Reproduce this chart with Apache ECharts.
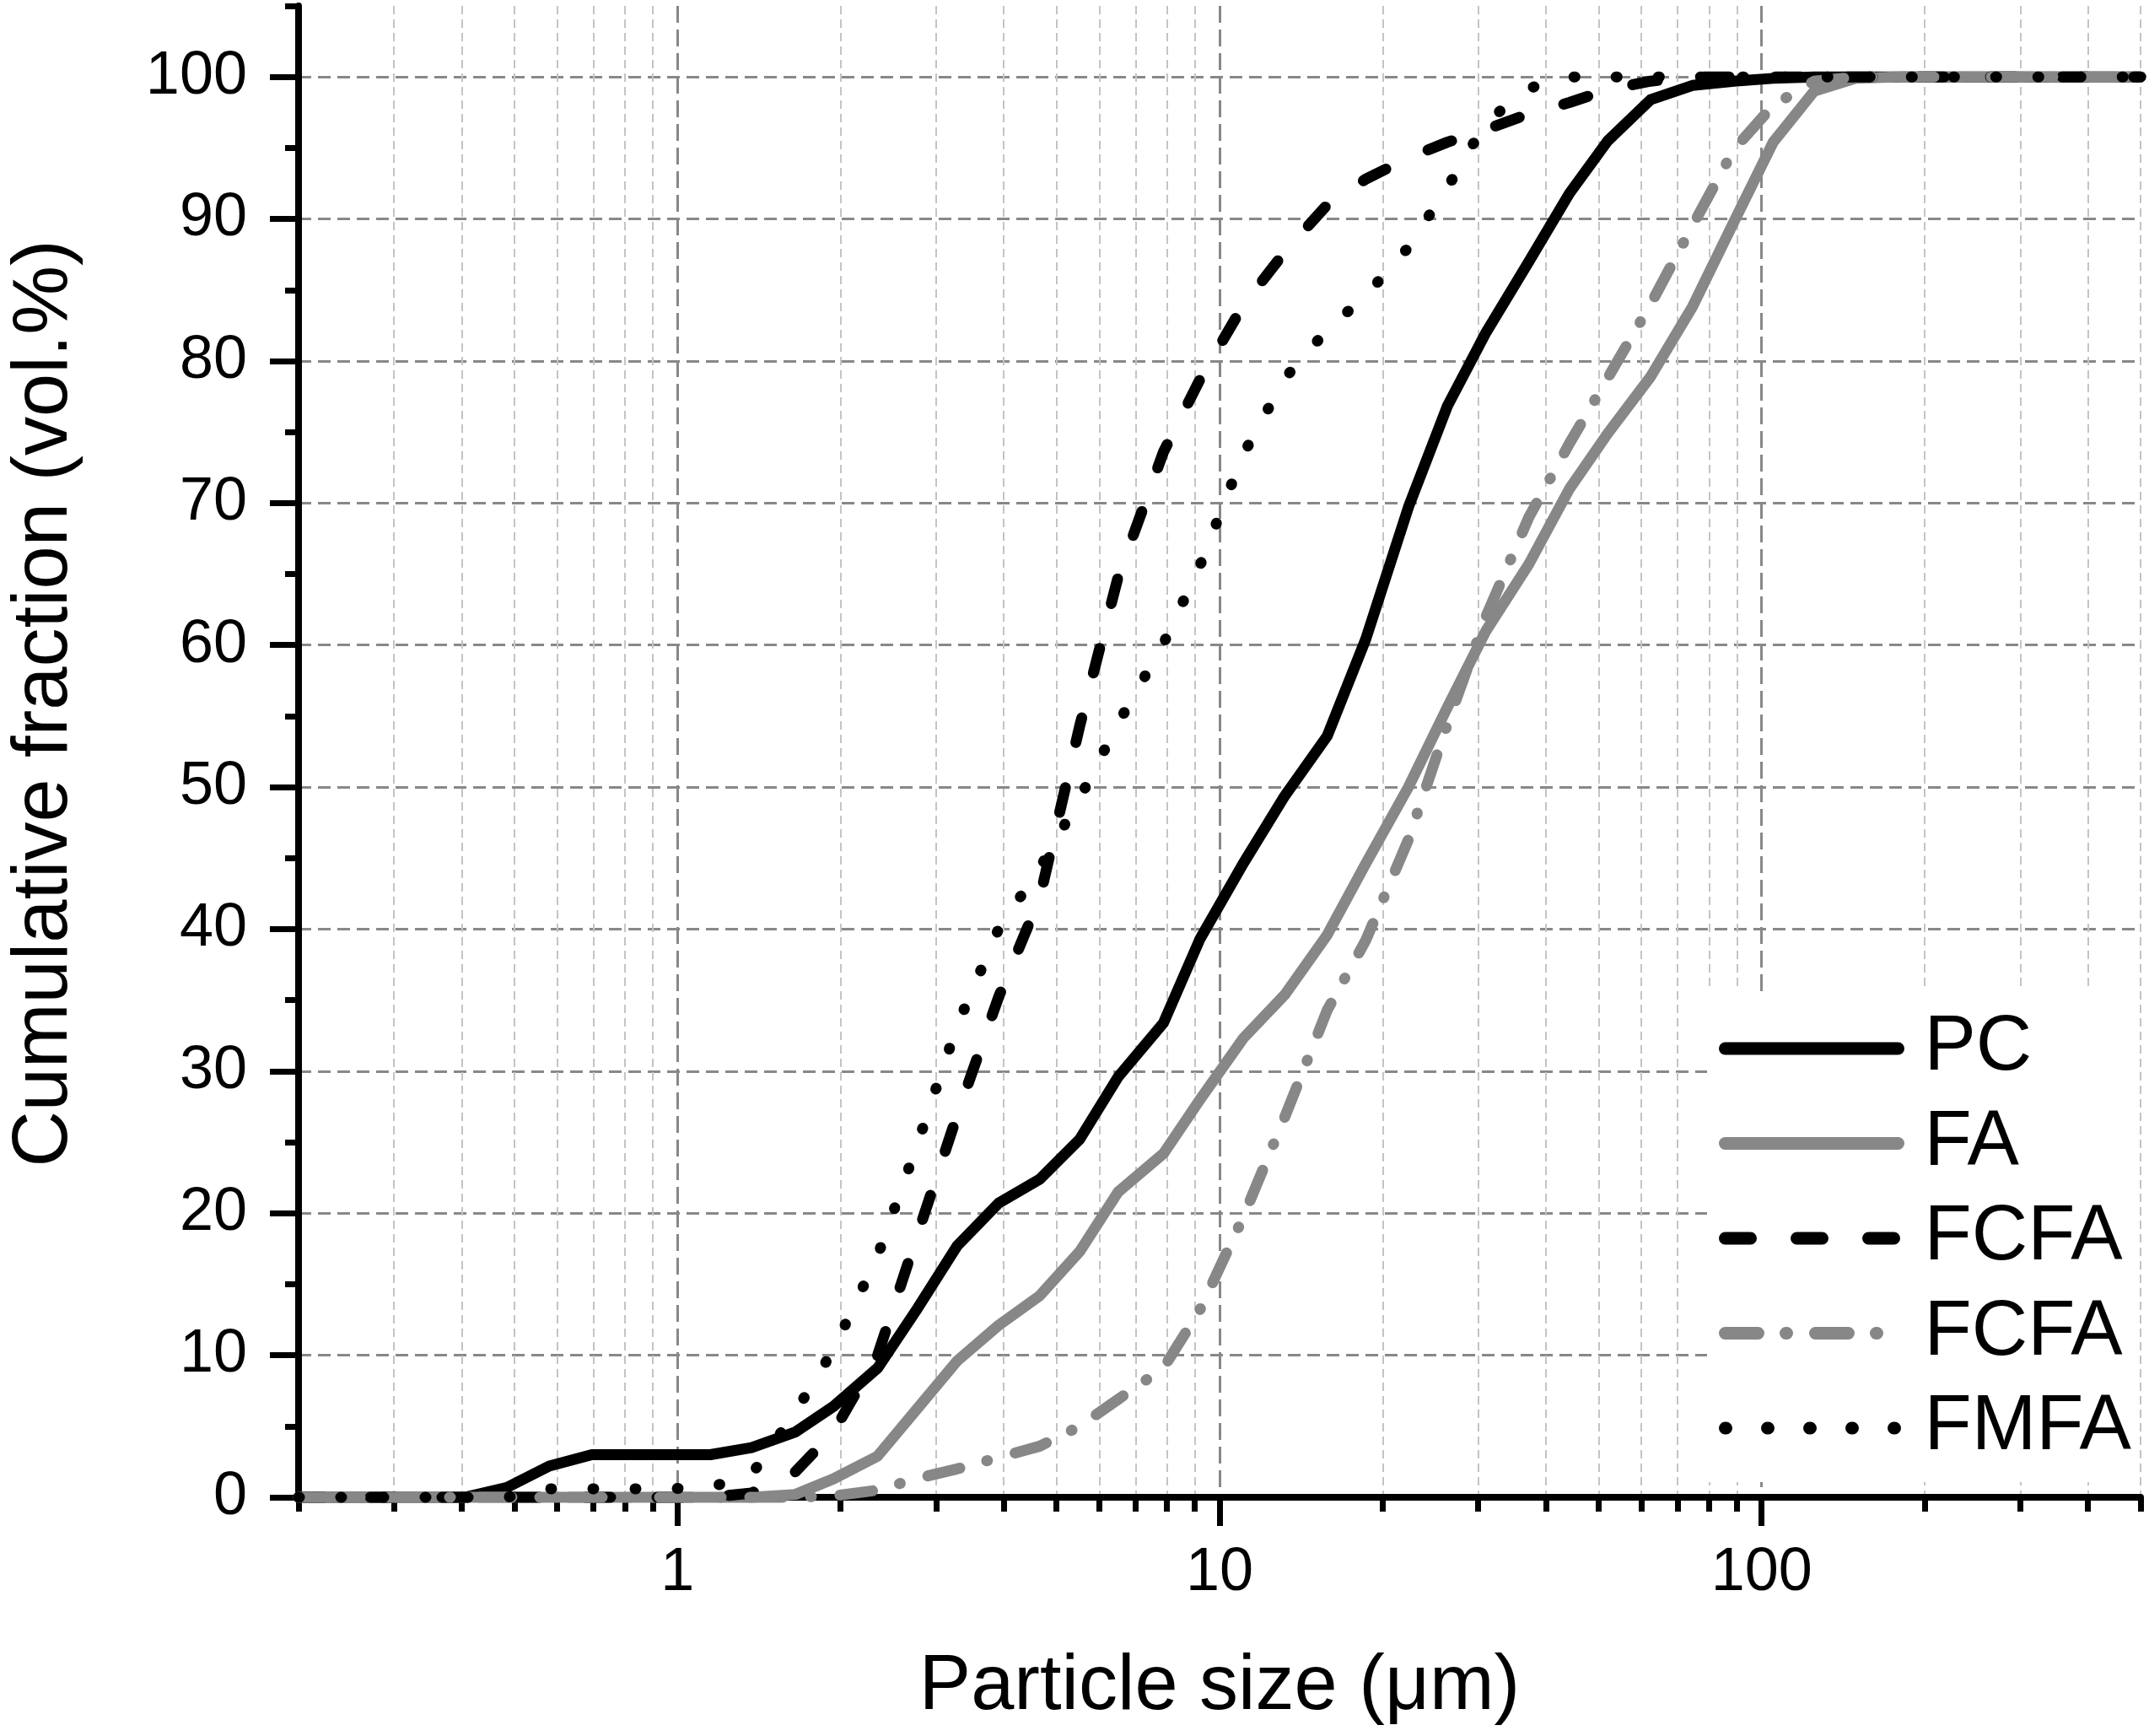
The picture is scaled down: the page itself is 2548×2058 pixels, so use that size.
<!DOCTYPE html>
<html>
<head>
<meta charset="utf-8">
<title>Particle size distribution</title>
<script src="https://cdn.jsdelivr.net/npm/echarts@6/dist/echarts.min.js"></script>
<style>
    html, body { margin: 0; padding: 0; background: #fff; }
    #chart { width: 2548px; height: 2058px; }
</style>
</head>
<body>
<div id="chart"></div>
<script>
// size classes (µm)
var sizes = [0.2, 0.24, 0.285, 0.34, 0.405, 0.485, 0.58, 0.695, 0.82, 0.97,
    1.15, 1.37, 1.65, 1.94, 2.34, 2.75, 3.28, 3.91, 4.66, 5.52,
    6.5, 7.88, 9.2, 11.05, 13.2, 15.8, 18.6, 22.3, 26.3, 31,
    37.2, 44.2, 52, 62.4, 74.5, 88.9, 105, 125, 149, 177,
    211, 251, 298, 355, 422, 500];

// cumulative fraction (vol.%)
var pc = [0, 0, 0, 0, 0, 0.7, 2.2, 3.0, 3.0, 3.0,
    3.0, 3.5, 4.6, 6.4, 9.1, 13.1, 17.7, 20.7, 22.4, 25.2,
    29.6, 33.4, 39.3, 44.6, 49.4, 53.6, 60.4, 69.7, 76.8, 82.0,
    87.0, 91.8, 95.5, 98.4, 99.4, 99.7, 99.9, 100, 100, 100,
    100, 100, 100, 100, 100, 100];
var fa = [0, 0, 0, 0, 0, 0, 0, 0, 0, 0,
    0, 0, 0.2, 1.3, 2.9, 6.1, 9.6, 12.1, 14.2, 17.3,
    21.5, 24.2, 28.0, 32.3, 35.4, 39.6, 44.6, 50.0, 55.6, 61.0,
    65.7, 71.0, 74.9, 78.9, 83.8, 89.8, 95.4, 99.0, 99.9, 100,
    100, 100, 100, 100, 100, 100];
var fcfa = [0, 0, 0, 0, 0, 0, 0, 0, 0, 0,
    0, 0.3, 1.8, 4.6, 10.0, 18.1, 26.9, 35.2, 42.2, 54.3,
    64.8, 73.6, 78.7, 83.9, 87.7, 91.0, 92.8, 94.3, 95.4, 96.3,
    97.4, 98.2, 99.1, 99.7, 100, 100, 100, 100, 100, 100,
    100, 100, 100, 100, 100, 100];
var fcfa2 = [0, 0, 0, 0, 0, 0, 0, 0, 0, 0,
    0, 0, 0, 0.1, 0.5, 1.3, 2.0, 2.8, 3.6, 5.0,
    6.9, 9.1, 13.2, 19.7, 26.8, 34.3, 39.2, 46.3, 54.4, 62.0,
    69.0, 74.2, 78.8, 84.0, 89.5, 94.9, 98.0, 99.7, 100, 100,
    100, 100, 100, 100, 100, 100];
var fmfa = [0, 0, 0, 0, 0, 0, 0.6, 0.6, 0.6, 0.6,
    0.7, 1.6, 6.0, 10.4, 17.0, 24.5, 33.2, 40.0, 44.3, 49.2,
    54.5, 60.1, 65.6, 73.4, 78.8, 82.2, 84.6, 88.0, 92.2, 96.8,
    99.2, 100, 100, 100, 100, 100, 100, 100, 100, 100,
    100, 100, 100, 100, 100, 100];

// tick positions
var xMajorTicks = [1, 10, 100];
var xMinorTicks = [0.2, 0.3, 0.4, 0.5, 0.6, 0.7, 0.8, 0.9,
    2, 3, 4, 5, 6, 7, 8, 9,
    20, 30, 40, 50, 60, 70, 80, 90,
    200, 300, 400, 500];
var yMajorTicks = [0, 10, 20, 30, 40, 50, 60, 70, 80, 90, 100];
var yMinorTicks = [5, 15, 25, 35, 45, 55, 65, 75, 85, 95, 105];

var FONT = "'Liberation Sans', Arial, sans-serif";
var BLACK = '#000';
var GREY = '#878787';
var LINE_W = 13;

function pairs(ys){
    let out = [];
    for(let i = 0, len = sizes.length; i < len; i++){
        out.push([sizes[i], ys[i]]);
    }
    return out;
}

function makeSeries(name, ys, color, dash){
    return {
        name: name,
        type: 'line',
        xAxisIndex: 0,
        yAxisIndex: 0,
        data: pairs(ys),
        symbol: 'none',
        showSymbol: false,
        smooth: false,
        clip: false,
        lineStyle: {
            color: color,
            width: LINE_W,
            type: dash,
            cap: 'round',
            join: 'round',
            opacity: 1
        },
        itemStyle: { color: color },
        emphasis: { disabled: true }
    };
}

var series = [
    makeSeries('PC', pc, BLACK, 'solid'),
    makeSeries('FA', fa, GREY, 'solid'),
    makeSeries('FCFA', fcfa, BLACK, [30, 55]),
    // trailing space keeps the two FCFA legend entries apart
    makeSeries('FCFA ', fcfa2, GREY, [39, 33, 1, 34]),
    makeSeries('FMFA', fmfa, BLACK, [1, 49])
];

var option = {
    animation: false,
    backgroundColor: '#fff',
    grid: {
        left: 344,
        right: 10,
        top: 7,
        bottom: 283,
        containLabel: false
    },
    legend: {
        orient: 'vertical',
        left: 2024,
        top: 1175,
        padding: [22, 8, 18, 14],
        backgroundColor: '#fff',
        itemWidth: 205,
        itemHeight: 92,
        itemGap: 20.5,
        selectedMode: false,
        lineStyle: { width: 15 },
        itemStyle: { opacity: 0, color: 'rgba(0,0,0,0)', borderWidth: 0 },
        textStyle: {
            fontFamily: FONT,
            fontSize: 92,
            color: BLACK,
            padding: [0, 0, 0, 26]
        },
        formatter: function(name){ return name.trim(); },
        data: ['PC', 'FA', 'FCFA', 'FCFA ', 'FMFA']
    },
    xAxis: [
        {
            type: 'log',
            logBase: 10,
            min: 0.2,
            max: 500,
            position: 'bottom',
            name: 'Particle size (μm)',
            nameLocation: 'middle',
            nameGap: 180,
            nameTextStyle: { fontFamily: FONT, fontSize: 92, color: BLACK },
            axisLine: { show: true, onZero: false, lineStyle: { color: BLACK, width: 8 } },
            axisTick: {
                show: true,
                inside: false,
                length: 34,
                customValues: xMajorTicks,
                lineStyle: { color: BLACK, width: 7 }
            },
            axisLabel: {
                show: true,
                customValues: xMajorTicks,
                margin: 54,
                fontFamily: FONT,
                fontSize: 72,
                color: BLACK,
                formatter: function(v){ return String(v); }
            },
            splitLine: {
                show: true,
                lineStyle: { color: '#888', width: 3, type: [20, 8] }
            },
            minorTick: { show: false },
            minorSplitLine: { show: false }
        },
        {
            type: 'log',
            logBase: 10,
            min: 0.2,
            max: 500,
            position: 'bottom',
            offset: 0,
            axisLine: { show: false, onZero: false },
            axisTick: {
                show: true,
                inside: false,
                length: 17,
                customValues: xMinorTicks,
                lineStyle: { color: BLACK, width: 7 }
            },
            axisLabel: { show: false },
            splitLine: {
                show: true,
                lineStyle: { color: '#c4c4c4', width: 2, type: [10, 6] }
            }
        }
    ],
    yAxis: [
        {
            type: 'value',
            min: 0,
            max: 105,
            position: 'left',
            name: 'Cumulative fraction (vol.%)',
            nameLocation: 'middle',
            nameRotate: 90,
            nameGap: 254,
            nameTextStyle: {
                fontFamily: FONT,
                fontSize: 92,
                color: BLACK,
                padding: [0, 0, 0, 114]
            },
            axisLine: { show: true, onZero: false, lineStyle: { color: BLACK, width: 8 } },
            axisTick: {
                show: true,
                inside: false,
                length: 34,
                customValues: yMajorTicks,
                lineStyle: { color: BLACK, width: 7 }
            },
            axisLabel: {
                show: true,
                customValues: yMajorTicks,
                margin: 61,
                fontFamily: FONT,
                fontSize: 72,
                color: BLACK
            },
            splitLine: {
                show: true,
                lineStyle: { color: '#888', width: 3, type: [15, 8] }
            }
        },
        {
            type: 'value',
            min: 0,
            max: 105,
            position: 'left',
            offset: 0,
            axisLine: { show: false, onZero: false },
            axisTick: {
                show: true,
                inside: false,
                length: 16,
                customValues: yMinorTicks,
                lineStyle: { color: BLACK, width: 7 }
            },
            axisLabel: { show: false },
            splitLine: { show: false }
        }
    ],
    series: series
};

var dom = document.getElementById('chart');
var myChart = echarts.init(dom, null, { renderer: 'canvas' });
myChart.setOption(option, true);
</script>
</body>
</html>
